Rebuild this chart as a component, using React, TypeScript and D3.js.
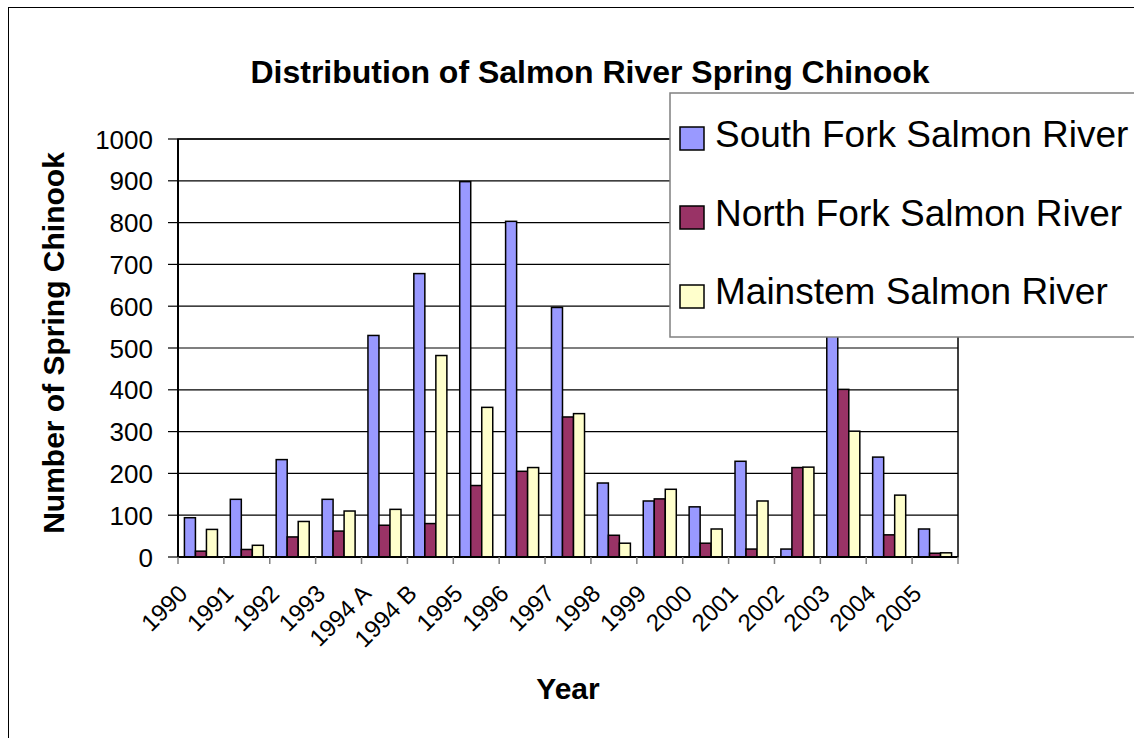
import React, { useRef, useEffect } from "react";
import * as d3 from "d3";

const years = ["1990", "1991", "1992", "1993", "1994 A", "1994 B", "1995", "1996", "1997", "1998", "1999", "2000", "2001", "2002", "2003", "2004", "2005"];
const seriesNames = ["South Fork Salmon River", "North Fork Salmon River", "Mainstem Salmon River"];
const southFork = [94, 138, 233, 138, 530, 678, 898, 803, 597, 177, 134, 120, 229, 19, 580, 239, 67];
const northFork = [14, 18, 48, 62, 76, 80, 171, 205, 335, 52, 139, 33, 19, 214, 401, 53, 9];
const mainstem = [66, 28, 85, 110, 114, 482, 358, 214, 343, 33, 162, 67, 134, 215, 301, 148, 10];
const yTicks = [0, 100, 200, 300, 400, 500, 600, 700, 800, 900, 1000];
const colors = ["#9999ff", "#993366", "#ffffcc"];

const W = 1134, H = 738;
const font = "'Liberation Sans', Arial, sans-serif";

const App: React.FC = () => {
    const ref = useRef<SVGSVGElement>(null);

    useEffect(() => {
        const svg = d3.select(ref.current);
        svg.selectAll("*").remove();

        const left = 178, right = 958, top = 139, bottom = 557;
        const allSeries = [southFork, northFork, mainstem];

        // outer chart frame
        svg.append("rect").attr("x", 8.5).attr("y", 7.5).attr("width", W + 20).attr("height", H + 20)
            .attr("fill", "white").attr("stroke", "#000").attr("stroke-width", 1);

        const x0 = d3.scaleBand().domain(years).range([left, right]).padding(0);
        const bw = x0.bandwidth();
        const x1 = d3.scaleBand().domain(["0", "1", "2"]).range([bw * 0.14, bw * 0.86]).padding(0);
        const y = d3.scaleLinear().domain([0, 1000]).range([bottom, top]);

        // gridlines
        svg.append("g").selectAll("line").data(yTicks.slice(1)).enter().append("line")
            .attr("x1", left).attr("x2", right)
            .attr("y1", (d) => y(d)).attr("y2", (d) => y(d))
            .attr("stroke", "#000").attr("stroke-width", 1.2);

        // plot border
        svg.append("rect").attr("x", left).attr("y", top).attr("width", right - left).attr("height", bottom - top)
            .attr("fill", "none").attr("stroke", "#000").attr("stroke-width", 1.5);

        // bars
        allSeries.forEach((vals, si) => {
            svg.append("g").selectAll("rect").data(vals).enter().append("rect")
                .attr("x", (_, i) => (x0(years[i]) as number) + (x1(String(si)) as number))
                .attr("y", (d) => y(d))
                .attr("width", x1.bandwidth())
                .attr("height", (d) => bottom - y(d))
                .attr("fill", colors[si])
                .attr("stroke", "#000").attr("stroke-width", 1.5);
        });

        // y axis
        svg.append("line").attr("x1", left).attr("x2", left).attr("y1", top).attr("y2", bottom)
            .attr("stroke", "#000").attr("stroke-width", 2);
        const yg = svg.append("g");
        yg.selectAll("line").data(yTicks).enter().append("line")
            .attr("x1", left - 10).attr("x2", left).attr("y1", (d) => y(d)).attr("y2", (d) => y(d))
            .attr("stroke", "#000").attr("stroke-width", 1.2);
        yg.selectAll("text").data(yTicks).enter().append("text")
            .attr("x", 153).attr("y", (d) => y(d) + 9.5)
            .attr("text-anchor", "end").style("font-family", font).style("font-size", "26px")
            .text((d) => d);

        // x axis
        svg.append("line").attr("x1", left).attr("x2", right).attr("y1", bottom).attr("y2", bottom)
            .attr("stroke", "#000").attr("stroke-width", 2);
        const xTickPos = years.map((d) => x0(d) as number).concat([right]);
        svg.append("g").selectAll("line").data(xTickPos).enter().append("line")
            .attr("x1", (d) => d).attr("x2", (d) => d).attr("y1", bottom).attr("y2", bottom + 7)
            .attr("stroke", "#808080").attr("stroke-width", 1.5);
        svg.append("g").selectAll("text").data(years).enter().append("text")
            .attr("transform", (d) => `translate(${(x0(d) as number) + bw / 2 - 12},${bottom + 38}) rotate(-45)`)
            .attr("text-anchor", "end").style("font-family", font).style("font-size", "24px")
            .text((d) => d);

        // titles
        svg.append("text").attr("x", 590).attr("y", 83).attr("text-anchor", "middle")
            .style("font-family", font).style("font-size", "32px").style("font-weight", "bold")
            .text("Distribution of Salmon River Spring Chinook");
        svg.append("text").attr("transform", `translate(64,343) rotate(-90)`).attr("text-anchor", "middle")
            .style("font-family", font).style("font-size", "30px").style("font-weight", "bold")
            .text("Number of Spring Chinook");
        svg.append("text").attr("x", (left + right) / 2).attr("y", 699).attr("text-anchor", "middle")
            .style("font-family", font).style("font-size", "30px").style("font-weight", "bold")
            .text("Year");

        // legend
        const lg = svg.append("g");
        lg.append("rect").attr("x", 670).attr("y", 93).attr("width", 500).attr("height", 244)
            .attr("fill", "white").attr("stroke", "#808080").attr("stroke-width", 1.5);
        seriesNames.forEach((name, i) => {
            const cy = 138 + i * 79;
            lg.append("rect").attr("x", 680).attr("y", cy - 11).attr("width", 24).attr("height", 23)
                .attr("fill", colors[i]).attr("stroke", "#000").attr("stroke-width", 1.5);
            lg.append("text").attr("x", 715).attr("y", cy + 9 + (i === 2 ? -1 : 0))
                .style("font-family", font).style("font-size", "37px")
                .text(name);
        });
    }, []);

    return (
        <div style={{ position: "fixed", left: 0, top: 0, width: W, height: H, background: "white" }}>
            <svg ref={ref} width={W} height={H}></svg>
        </div>
    );
};

export default App;
